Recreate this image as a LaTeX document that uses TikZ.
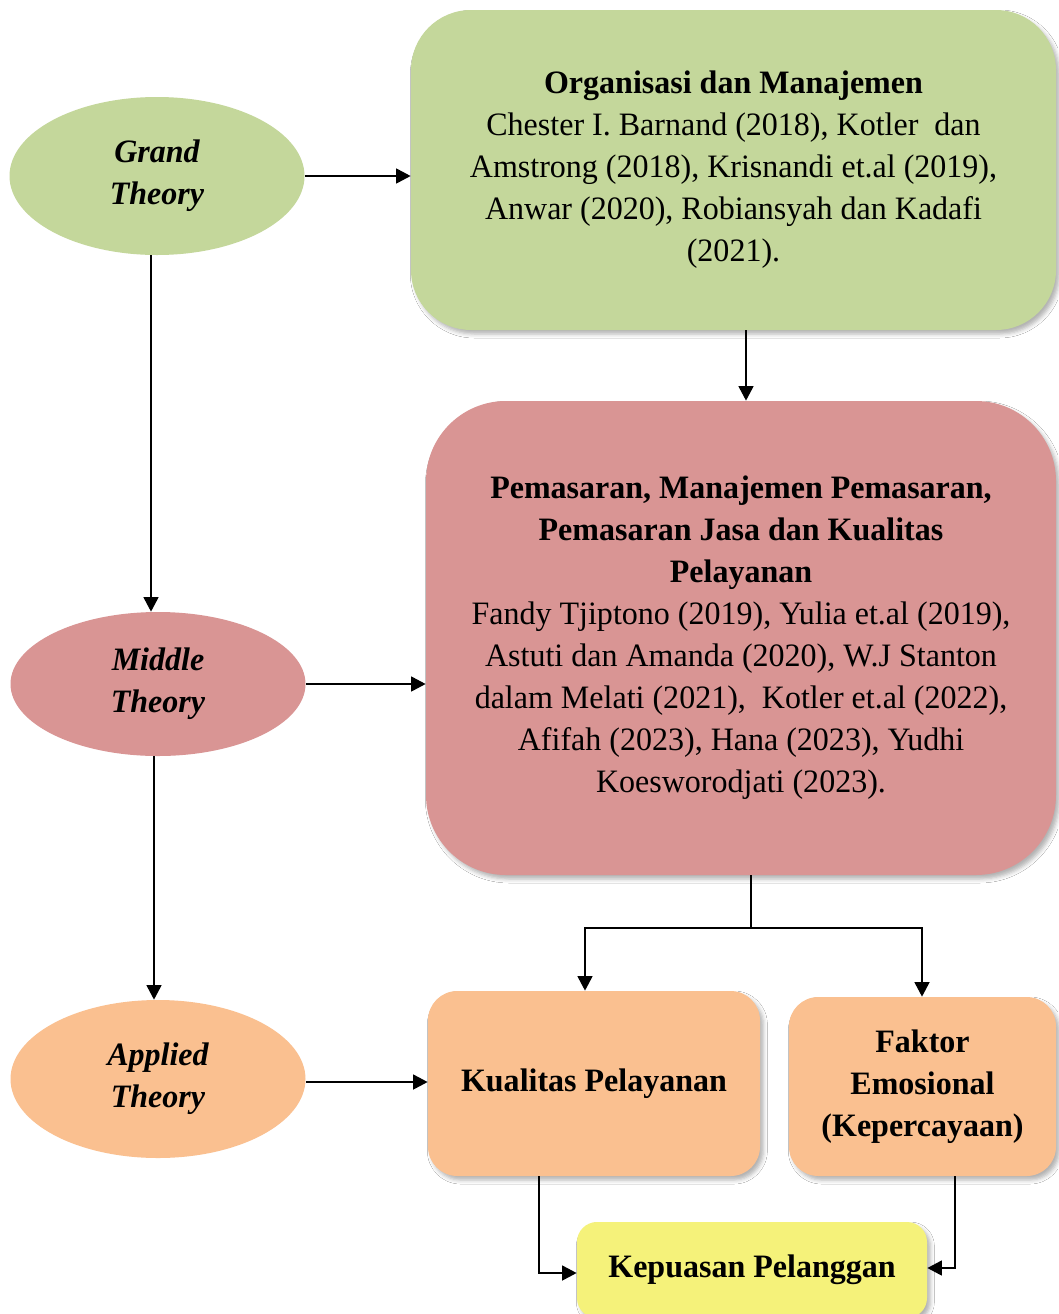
\documentclass[tikz,border=0pt]{standalone}
\usepackage{fontspec}
\setmainfont{Liberation Serif}[FakeStretch=0.98]
\usetikzlibrary{arrows.meta,shadows,shadows.blur,calc,shapes.geometric}
\definecolor{cgreen}{HTML}{C4D79B}
\definecolor{cred}{HTML}{D99594}
\definecolor{corange}{HTML}{FAC090}
\definecolor{cyellow}{HTML}{F5F27A}
\tikzset{
  every node/.style={font=\fontsize{24.5}{31.5}\selectfont, inner sep=0pt, align=center},
  theory/.style={ellipse, minimum width=295*0.75pt, font=\fontsize{24.5}{31.5}\selectfont\bfseries\itshape},
  box/.style={rectangle, blur shadow={shadow xshift=2.5pt, shadow yshift=-3pt, shadow opacity=30, shadow blur radius=3pt}},
  conn/.style={line width=2pt, -{Triangle[length=11pt,width=11pt]}},
  plain/.style={line width=2pt},
}
\begin{document}
\begin{tikzpicture}[x=0.75pt,y=-0.75pt]
\useasboundingbox (0,0) rectangle (1058,1314);
\fill[white] (0,0) rectangle (1058,1314);
% ellipses
\node[theory, fill=cgreen, minimum height=158*0.75pt] (gt) at (157,176) {Grand\\Theory};
\node[theory, fill=cred, minimum height=144*0.75pt] (mt) at (158,684) {Middle\\Theory};
\node[theory, fill=corange, minimum height=158*0.75pt] (at) at (158,1079) {Applied\\Theory};
% boxes
\node[box, fill=cgreen, rounded corners=45pt, minimum width=645*0.75pt, minimum height=320*0.75pt] (og) at (733.5,170)
  {\textbf{Organisasi dan Manajemen}\\Chester I. Barnand (2018), Kotler\ \ dan\\Amstrong (2018), Krisnandi et.al (2019),\\Anwar (2020), Robiansyah dan Kadafi\\(2021).};
\node[box, fill=cred, rounded corners=60pt, minimum width=630*0.75pt, minimum height=474*0.75pt] (pm) at (741,638)
  {\textbf{Pemasaran, Manajemen Pemasaran,}\\\textbf{Pemasaran Jasa dan Kualitas}\\\textbf{Pelayanan}\\Fandy Tjiptono (2019), Yulia et.al (2019),\\Astuti dan Amanda (2020), W.J Stanton\\dalam Melati (2021),\ \ Kotler et.al (2022),\\Afifah (2023), Hana (2023), Yudhi\\Koesworodjati (2023).};
\node[box, fill=corange, rounded corners=22pt, minimum width=332*0.75pt, minimum height=185*0.75pt] (kp) at (594,1083.5)
  {\textbf{Kualitas Pelayanan}};
\node[box, fill=corange, rounded corners=22pt, minimum width=267*0.75pt, minimum height=179*0.75pt] (fe) at (922.5,1086.5)
  {\textbf{Faktor}\\\textbf{Emosional}\\\textbf{(Kepercayaan)}};
\node[box, fill=cyellow, rounded corners=15pt, minimum width=350*0.75pt, minimum height=96*0.75pt] (kpl) at (752,1270)
  {\textbf{Kepuasan Pelanggan}};
% connectors
\coordinate (c1) at (151,0);
\coordinate (c2) at (154,0);
\coordinate (c3) at (746,0);
\draw[conn] (gt.east) -- (og.west |- gt.east);
\draw[conn] (gt.south -| c1) -- (mt.north -| c1);
\draw[conn] (mt.east) -- (pm.west |- mt.east);
\draw[conn] (mt.south -| c2) -- (at.north -| c2);
\coordinate (ae) at ($(at.east)+(0,3)$);
\draw[conn] (ae) -- (kp.west |- ae);
\draw[conn] (og.south -| c3) -- (pm.north -| c3);
\coordinate (j) at (751,928);
\coordinate (jl) at (585,928);
\coordinate (jr) at (922,928);
\draw[plain] (pm.south -| j) -- (j);
\draw[plain, line cap=rect] (jl) -- (jr);
\draw[conn] (jl) -- (kp.north -| jl);
\draw[conn] (jr) -- (fe.north -| jr);
\coordinate (kb) at (539,1273);
\coordinate (fb) at (955,1268);
\draw[conn] (kp.south -| kb) -- (kb) -- (kpl.west |- kb);
\draw[conn] (fe.south -| fb) -- (fb) -- (kpl.east |- fb);
\end{tikzpicture}
\end{document}
